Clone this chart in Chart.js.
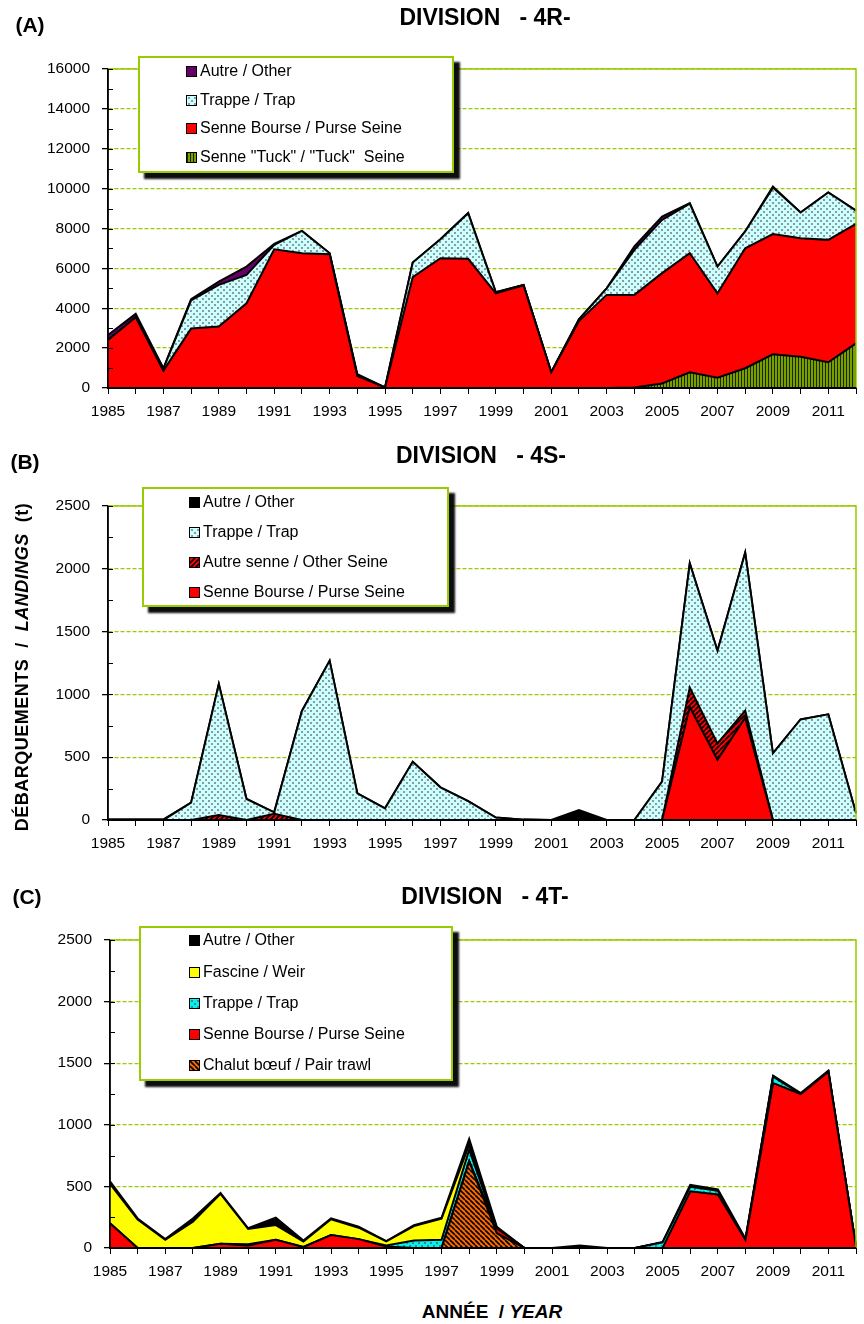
<!DOCTYPE html>
<html>
<head>
<meta charset="utf-8">
<script src="https://cdn.jsdelivr.net/npm/chart.js@4.4.1/dist/chart.umd.min.js"></script>
<style>
  body { margin: 0; background: #fff; }
  #page { position: relative; width: 864px; height: 1324px; overflow: hidden;
          font-family: 'Liberation Sans', Arial, sans-serif; color: #000; background: #fff; }
  canvas { position: absolute; left: 0; }
  .ctr { position: absolute; transform: translate(-50%, -50%); white-space: pre; font-weight: bold; line-height: 1; }
  .tag { font-size: 21px; }
  .ttl { font-size: 23px; }
  .ytitle { position: absolute; left: 22px; top: 667px; transform: translate(-50%, -50%) rotate(-90deg);
            white-space: pre; font-weight: bold; font-size: 18px; letter-spacing: 0.5px; line-height: 1; }
  .xtitle { font-size: 19px; }
  .legend { position: absolute; border: 2px solid #99cc00; background: #fff;
            box-shadow: 6px 6px 2px rgba(0,0,0,0.95); z-index: 2; }
  .row { position: absolute; height: 20px; line-height: 20px; font-size: 16px; white-space: pre; }
  .sw { display: inline-block; width: 9px; height: 9px; border: 1px solid #000;
        vertical-align: -1px; margin-right: 3px; }
</style>
</head>
<body>
<div id="page">
  <canvas id="c4R" width="864" height="430" style="top:0px"></canvas>
  <canvas id="c4S" width="864" height="430" style="top:430px"></canvas>
  <canvas id="c4T" width="864" height="440" style="top:860px"></canvas>

  <div class="ctr tag" style="left:30px;top:24px">(A)</div>
  <div class="ctr ttl" style="left:485px;top:17px">DIVISION   - 4R-</div>
  <div class="ctr tag" style="left:25px;top:461px">(B)</div>
  <div class="ctr ttl" style="left:481px;top:455px">DIVISION   - 4S-</div>
  <div class="ctr tag" style="left:27px;top:896px">(C)</div>
  <div class="ctr ttl" style="left:485px;top:896px">DIVISION   - 4T-</div>

  <div class="ytitle">DÉBARQUEMENTS  /  <i>LANDINGS</i>  (t)</div>
  <div class="ctr xtitle" style="left:492px;top:1311px">ANNÉE  / <i>YEAR</i></div>

  <div id="leg4R" class="legend" style="left:138px;top:56px;width:312px;height:113px"></div>
  <div id="leg4S" class="legend" style="left:142px;top:487px;width:303px;height:116px"></div>
  <div id="leg4T" class="legend" style="left:139px;top:926px;width:310px;height:151px"></div>
</div>

<script>
// Years on the horizontal axis
const years = ['1985','1986','1987','1988','1989','1990','1991','1992','1993','1994',
               '1995','1996','1997','1998','1999','2000','2001','2002','2003','2004',
               '2005','2006','2007','2008','2009','2010','2011','2012'];

// Division 4R landings (t) by gear, stacked bottom to top
const tuckSeine4R  = [0,0,0,0,0,0,0,0,0,0,0,0,0,0,0,0,0,0,0,20,230,790,520,990,1690,1570,1290,2240];
const purseSeine4R = [2410,3550,870,2980,3080,4250,6960,6760,6710,600,30,5560,6510,6480,4750,5150,790,3360,4670,4650,5530,5970,4230,6020,6030,5940,6140,5990];
const trap4R       = [0,0,100,1420,2090,1420,220,1120,50,40,0,730,950,2290,50,20,0,90,330,2260,2670,2490,1340,840,2330,1290,2380,670];
const other4R      = [250,170,20,50,170,420,50,0,0,50,0,0,0,0,0,0,0,0,0,170,170,20,0,0,50,0,0,0];

// Division 4S landings (t)
const purseSeine4S = [0,0,0,0,0,0,0,0,0,0,0,0,0,0,0,0,0,0,0,0,0,900,480,815,0,0,0,0];
const otherSeine4S = [0,0,0,0,40,0,50,0,0,0,0,0,0,0,0,0,0,0,0,0,0,155,130,55,0,0,0,0];
const trap4S       = [0,0,0,138,1043,167,11,868,1268,212,93,464,260,151,19,3,0,0,0,0,305,988,738,1258,531,801,841,53];
const other4S      = [5,5,5,0,0,0,0,0,0,0,0,0,0,0,0,0,0,80,0,0,0,0,0,0,0,0,0,0];

// Division 4T landings (t)
const pairTrawl4T  = [0,0,0,0,0,0,0,0,0,0,0,0,0,705,120,0,0,0,0,0,0,0,0,0,0,0,0,0];
const purseSeine4T = [200,0,0,0,35,20,66,8,105,72,13,0,0,0,40,0,0,0,0,0,0,460,434,66,1338,1250,1431,13];
const trap4T       = [0,0,0,0,0,10,0,0,0,0,8,61,66,93,0,0,0,0,0,0,45,37,31,0,53,0,0,0];
const weir4T       = [320,231,66,213,404,124,120,45,129,93,32,117,173,40,0,0,0,0,0,0,0,0,0,0,0,0,0,0];
const other4T      = [20,9,6,27,8,6,61,8,6,8,3,8,6,48,13,0,0,21,0,0,3,16,11,9,8,8,8,0];

// Axis ranges and tick steps
const yMax4R = 16000, yMajor4R = 2000, yMinor4R = 1000;
const yMax4S = 2500,  yMajor4S = 500,  yMinor4S = 250;
const yMax4T = 2500,  yMajor4T = 500,  yMinor4T = 250;

const GREEN = '#99cc00';
const TICK_FONT = { family: "'Liberation Sans', Arial, sans-serif", size: 15.5 };

// ---- fill textures ----
function tile(w, h, draw) {
  const c = document.createElement('canvas');
  c.width = w; c.height = h;
  draw(c.getContext('2d'), w, h);
  return c;
}
function dots(base, dot) {
  return tile(6, 6, (g) => {
    g.fillStyle = base; g.fillRect(0, 0, 6, 6);
    g.fillStyle = dot;
    g.fillRect(1, 1, 2, 2); g.fillRect(4, 4, 2, 2);
  });
}
function vStripes(base, stripe) {
  return tile(3, 3, (g) => {
    g.fillStyle = base; g.fillRect(0, 0, 3, 3);
    g.fillStyle = stripe; g.fillRect(0, 0, 1, 3);
  });
}
function diag(base, line, s, lw, forward) {
  return tile(s, s, (g) => {
    g.fillStyle = base; g.fillRect(0, 0, s, s);
    g.strokeStyle = line; g.lineWidth = lw;
    for (const k of [-s, 0, s]) {
      g.beginPath();
      if (forward) { g.moveTo(k, s); g.lineTo(k + s, 0); }
      else { g.moveTo(k, 0); g.lineTo(k + s, s); }
      g.stroke();
    }
  });
}
const scratch = document.createElement('canvas').getContext('2d');
function pattern(t) { return scratch.createPattern(t, 'repeat'); }

const tTrapLight = dots('#ccffff', '#8a9c9c');
const tTrapCyan  = dots('#00f2f2', '#3a8a8a');
const tTuck      = vStripes('#76a000', '#1e2600');
const tOtherSeine = diag('#ff0000', '#000', 5, 1.6, true);
const tPairTrawl  = diag('#ff6a00', '#000', 5, 1.6, false);

// ---- frame, axis lines and inside tick marks ----
const framePlugin = {
  id: 'frame',
  afterDatasetsDraw(chart) {
    const { ctx, chartArea: a, scales: { y } } = chart;
    ctx.save();
    ctx.strokeStyle = GREEN; ctx.lineWidth = 1.5;
    ctx.beginPath();
    ctx.moveTo(a.left, a.top); ctx.lineTo(a.right, a.top); ctx.lineTo(a.right, a.bottom);
    ctx.stroke();
    ctx.strokeStyle = '#000'; ctx.lineWidth = 1.5;
    ctx.beginPath(); ctx.moveTo(a.left, a.top); ctx.lineTo(a.left, a.bottom); ctx.stroke();
    ctx.lineWidth = 2;
    ctx.beginPath(); ctx.moveTo(a.left, a.bottom); ctx.lineTo(a.right, a.bottom); ctx.stroke();
    ctx.lineWidth = 1;
    y.ticks.forEach((t) => {
      const py = Math.round(y.getPixelForValue(t.value)) + 0.5;
      ctx.beginPath(); ctx.moveTo(a.left, py); ctx.lineTo(a.left + 5, py); ctx.stroke();
    });
    ctx.restore();
  }
};

function buildPanel(opt) {
  const datasets = opt.series.map((s, i) => ({
    label: s.label,
    data: s.data,
    backgroundColor: typeof s.fill === 'string' ? s.fill : pattern(s.fill),
    borderColor: '#000',
    borderWidth: 2,
    fill: i === 0 ? 'origin' : '-1',
    pointRadius: 0,
    pointHoverRadius: 0,
    tension: 0
  }));
  new Chart(document.getElementById(opt.canvas), {
    type: 'line',
    data: { labels: years, datasets },
    options: {
      responsive: false,
      animation: false,
      devicePixelRatio: 1,
      events: [],
      layout: { padding: { top: opt.top, right: opt.right, left: 0, bottom: 0 } },
      plugins: { legend: { display: false }, tooltip: { enabled: false } },
      scales: {
        x: {
          type: 'category',
          offset: false,
          grid: { drawOnChartArea: false, drawTicks: true, tickLength: 6, tickColor: '#000', tickWidth: 1 },
          border: { display: true, color: '#000', width: 2 },
          ticks: {
            autoSkip: false, maxRotation: 0, minRotation: 0, padding: 8, color: '#000', font: TICK_FONT,
            callback(v, i) { return i % 2 === 0 ? this.getLabelForValue(v) : ''; }
          },
          afterFit(s) { s.height = opt.xHeight; }
        },
        y: {
          stacked: true,
          min: 0,
          max: opt.max,
          grid: {
            color: (c) => (c.tick && c.tick.value > 0 && c.tick.value % opt.major === 0) ? GREEN : 'rgba(0,0,0,0)',
            lineWidth: 1.3,
            tickLength: 6,
            tickColor: (c) => (c.tick && c.tick.value % opt.major === 0) ? '#000' : 'rgba(0,0,0,0)'
          },
          border: { display: true, color: '#000', width: 1.5, dash: [4, 2] },
          ticks: {
            stepSize: opt.minor, autoSkip: false, padding: 12, color: '#000', font: TICK_FONT,
            callback: (v) => (v % opt.major === 0 ? String(v) : '')
          },
          afterFit(s) { s.width = opt.left; }
        }
      }
    },
    plugins: [framePlugin]
  });

  // legend box: top of the stack listed first
  const box = document.getElementById(opt.legend);
  opt.series.slice().reverse().forEach((s, i) => {
    const row = document.createElement('div');
    row.className = 'row';
    row.style.left = opt.legendX + 'px';
    row.style.top = (opt.legendRows[i] - 10) + 'px';
    const sw = document.createElement('span');
    sw.className = 'sw';
    if (typeof s.fill === 'string') sw.style.background = s.fill;
    else sw.style.backgroundImage = 'url(' + s.fill.toDataURL() + ')';
    row.appendChild(sw);
    row.appendChild(document.createTextNode(s.label));
    box.appendChild(row);
  });
}

buildPanel({
  canvas: 'c4R', legend: 'leg4R',
  top: 69, right: 2, left: 108, xHeight: 42,
  max: yMax4R, major: yMajor4R, minor: yMinor4R,
  legendX: 46, legendRows: [13, 42, 70, 99],
  series: [
    { label: 'Senne "Tuck" / "Tuck"  Seine', data: tuckSeine4R, fill: tTuck },
    { label: 'Senne Bourse / Purse Seine', data: purseSeine4R, fill: '#ff0000' },
    { label: 'Trappe / Trap', data: trap4R, fill: tTrapLight },
    { label: 'Autre / Other', data: other4R, fill: '#660066' }
  ]
});

buildPanel({
  canvas: 'c4S', legend: 'leg4S',
  top: 76, right: 2, left: 108, xHeight: 40,
  max: yMax4S, major: yMajor4S, minor: yMinor4S,
  legendX: 45, legendRows: [13, 43, 73, 103],
  series: [
    { label: 'Senne Bourse / Purse Seine', data: purseSeine4S, fill: '#ff0000' },
    { label: 'Autre senne / Other Seine', data: otherSeine4S, fill: tOtherSeine },
    { label: 'Trappe / Trap', data: trap4S, fill: tTrapLight },
    { label: 'Autre / Other', data: other4S, fill: '#000000' }
  ]
});

buildPanel({
  canvas: 'c4T', legend: 'leg4T',
  top: 80, right: 1, left: 110, xHeight: 52,
  max: yMax4T, major: yMajor4T, minor: yMinor4T,
  legendX: 48, legendRows: [12, 44, 75, 106, 137],
  series: [
    { label: 'Chalut bœuf / Pair trawl', data: pairTrawl4T, fill: tPairTrawl },
    { label: 'Senne Bourse / Purse Seine', data: purseSeine4T, fill: '#ff0000' },
    { label: 'Trappe / Trap', data: trap4T, fill: tTrapCyan },
    { label: 'Fascine / Weir', data: weir4T, fill: '#ffff00' },
    { label: 'Autre / Other', data: other4T, fill: '#000000' }
  ]
});
</script>
</body>
</html>
